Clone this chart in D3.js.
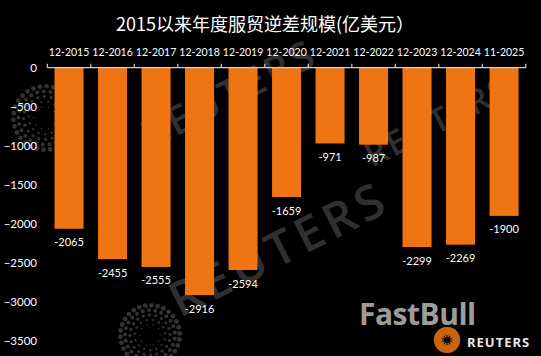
<!DOCTYPE html>
<html><head><meta charset="utf-8">
<script src="https://cdn.jsdelivr.net/npm/d3@7/dist/d3.min.js"></script>
<style>
html,body{margin:0;padding:0;background:#000;}
svg{display:block;}
</style></head>
<body>
<script>
const categories = ["12-2015","12-2016","12-2017","12-2018","12-2019","12-2020","12-2021","12-2022","12-2023","12-2024","11-2025"];
const values = [-2065,-2455,-2555,-2916,-2594,-1659,-971,-987,-2299,-2269,-1900];
const yTicks = [0,-500,-1000,-1500,-2000,-2500,-3000,-3500];
const title = "2015以来年度服贸逆差规模(亿美元）";

const W = 541, H = 356;
const svg = d3.select("body").append("svg").attr("width", W).attr("height", H);
svg.append("rect").attr("width", W).attr("height", H).attr("fill", "#000");

const font = "Lato, 'Noto Sans', sans-serif";

// watermarks
const wm = svg.append("g").attr("fill", "#303030").attr("font-family", "'Open Sans', sans-serif").attr("font-weight", 600);
[[180, 318, 48, 5], [150, 150, 40, 3], [372, 168, 34, 2]].forEach(([x, y, s, ls]) => {
  wm.append("text").attr("x", x).attr("y", y).attr("font-size", s).attr("letter-spacing", ls)
    .attr("transform", `rotate(-27,${x},${y})`).text("REUTERS");
});
// dotted circles (watermark logos)
function dotRing(cx, cy, r0, color, op) {
  const g = svg.append("g").attr("fill", color).attr("opacity", op);
  for (let ring = 0; ring < 5; ring++) {
    const r = r0 * (0.35 + ring * 0.16);
    const n = 10 + ring * 5;
    for (let i = 0; i < n; i++) {
      const a = i / n * Math.PI * 2 + ring * 0.3;
      g.append("circle").attr("cx", cx + r * Math.cos(a)).attr("cy", cy + r * Math.sin(a))
        .attr("r", 0.8 + ring * 0.4);
    }
  }
}
dotRing(45, 118, 32, "#333", 1);
dotRing(150, 335, 30, "#333", 1);

const x = d3.scaleBand().domain(categories).range([47.3, 525.8]).paddingInner(0.333).paddingOuter(0.1665);
const y = d3.scaleLinear().domain([-3500, 0]).range([340.7, 67.7]);

// title
svg.append("text").attr("x", 265).attr("y", 31).attr("text-anchor", "middle")
  .attr("fill", "#fff").attr("font-size", 18).attr("font-family", "'Noto Sans CJK SC', sans-serif")
  .text(title);

// y axis labels
const yAxis = d3.axisLeft(y).tickValues(yTicks).tickSize(0).tickPadding(0).tickFormat(d3.format("d"));
const ya = svg.append("g").attr("transform", "translate(37,0)").call(yAxis);
ya.select(".domain").remove();
ya.selectAll("text").attr("fill", "#fff").attr("font-size", 11.5).attr("font-family", font);

// bars
svg.append("g").selectAll("rect").data(values).join("rect")
  .attr("x", (d, i) => x(categories[i]))
  .attr("width", x.bandwidth())
  .attr("y", y(0))
  .attr("height", d => y(d) - y(0))
  .attr("fill", "#F07412");

// axis line with ticks at band boundaries
const step = x.step();
const x0 = 47.3;
svg.append("line").attr("x1", x0).attr("x2", x0 + step * categories.length)
  .attr("y1", y(0)).attr("y2", y(0)).attr("stroke", "#d0d0d0").attr("stroke-width", 1.2);
svg.append("g").selectAll("line").data(d3.range(categories.length + 1)).join("line")
  .attr("x1", i => x0 + i * step).attr("x2", i => x0 + i * step)
  .attr("y1", y(0)).attr("y2", y(0) - 4).attr("stroke", "#d0d0d0").attr("stroke-width", 1.2);

// category labels
svg.append("g").selectAll("text").data(categories).join("text")
  .attr("x", d => x0 + (categories.indexOf(d) + 0.5) * step).attr("y", 55.5)
  .attr("text-anchor", "middle").attr("fill", "#fff").attr("font-size", 10.5).attr("font-family", font)
  .text(d => d);

// value labels
svg.append("g").selectAll("text").data(values).join("text")
  .attr("x", (d, i) => x(categories[i]) + x.bandwidth() / 2).attr("y", d => y(d) + 17.5)
  .attr("text-anchor", "middle").attr("fill", "#fff").attr("font-size", 11).attr("font-family", font)
  .text(d => d);

// logo
svg.append("text").attr("x", 359).attr("y", 325).attr("fill", "#9c9c9c")
  .attr("font-size", 30).attr("font-weight", 700).attr("font-family", "'Open Sans', sans-serif")
  .attr("letter-spacing", -0.5).text("FastBull");
dotRing(447, 340, 11, "#e07010", 0.9);
svg.append("text").attr("x", 467).attr("y", 347).attr("fill", "#e8e8e8")
  .attr("font-size", 13).attr("font-weight", 700).attr("font-family", "'Open Sans', sans-serif")
  .attr("letter-spacing", 1).text("REUTERS");
</script>
</body></html>
